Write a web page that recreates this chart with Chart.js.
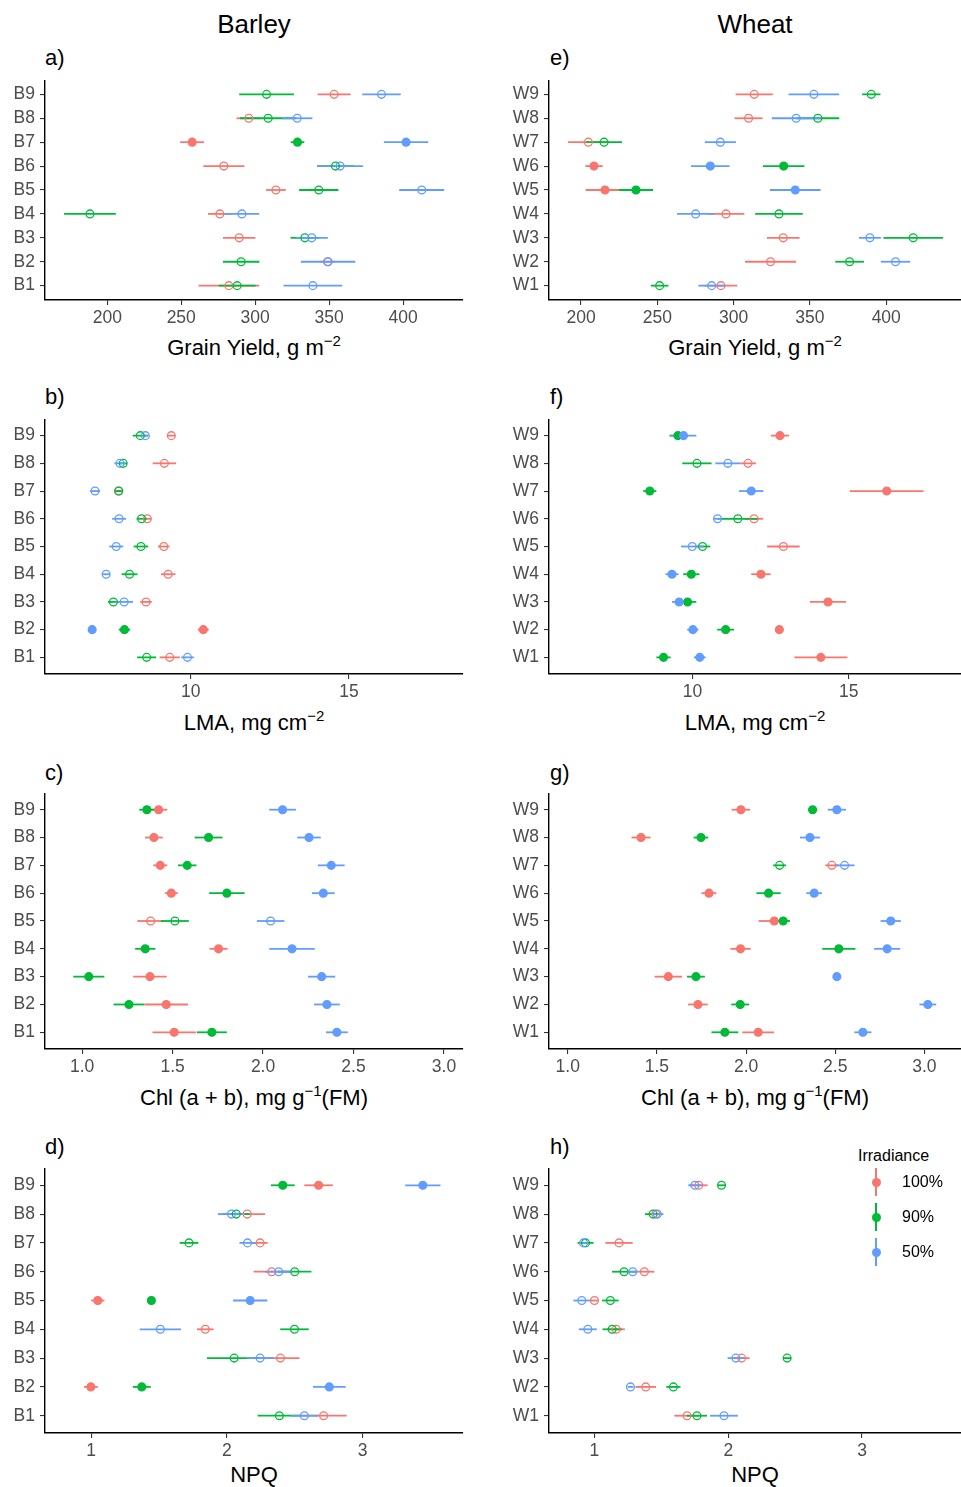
<!DOCTYPE html>
<html>
<head>
<meta charset="utf-8">
<script src="https://cdn.jsdelivr.net/npm/chart.js@4"></script>
<style>
  html, body { margin: 0; padding: 0; background: #fff; }
  #fig { position: relative; width: 961px; height: 1487px; overflow: hidden; font-family: 'Liberation Sans', Arial, sans-serif; }
  #fig canvas { position: absolute; }
  .col-title { position: absolute; width: 300px; margin-left: -150px; text-align: center; font-size: 26px; line-height: 30px; color: #000; }
  .panel-label { position: absolute; font-size: 22px; line-height: 26px; color: #000; }
  .axis-title { position: absolute; width: 420px; margin-left: -210px; text-align: center; font-size: 22px; line-height: 26px; color: #000; white-space: nowrap; }
  .axis-title sup { font-size: 15px; vertical-align: 0.6em; line-height: 0; }
  .legend-title { position: absolute; font-size: 16px; line-height: 20px; color: #000; }
  .legend-item { position: absolute; font-size: 16px; line-height: 20px; color: #000; }
  .legend-key { position: absolute; width: 16px; height: 28px; }
  .legend-key .bar { position: absolute; left: 7.1px; top: 0; width: 1.8px; height: 28px; }
  .legend-key .dot { position: absolute; left: 3.5px; top: 9.5px; width: 9px; height: 9px; border-radius: 50%; }
</style>
</head>
<body>
<div id="fig"></div>
<script>
// genotypes, bottom to top
const barleyLines = ['B1', 'B2', 'B3', 'B4', 'B5', 'B6', 'B7', 'B8', 'B9'];
const wheatLines = ['W1', 'W2', 'W3', 'W4', 'W5', 'W6', 'W7', 'W8', 'W9'];
const irradiance = ['100%', '90%', '50%'];
const colors = ['#F8766D', '#00BA38', '#619CFF'];

// tick labels
const yieldTicks = [200, 250, 300, 350, 400];
const lmaTicks = [10, 15];
const chlTicks = [1.0, 1.5, 2.0, 2.5, 3.0];
const npqTicks = [1, 2, 3];

// a) barley grain yield, g m-2 (mean and half error bar)
const yieldB100 = [282.2, 348.9, 289.2, 276.1, 314.0, 278.8, 257.4, 295.7, 353.4];
const yieldB100Se = [20.5, 5.0, 11.0, 8.0, 6.7, 13.9, 8.1, 8.3, 11.2];
const yieldB90 = [287.8, 290.5, 333.6, 188.3, 343.0, 354.3, 328.6, 308.8, 307.7];
const yieldB90Se = [12.5, 12.3, 9.7, 17.5, 13.3, 12.5, 4.6, 19.0, 18.5];
const yieldB50 = [339.0, 349.3, 338.3, 291.0, 412.6, 357.4, 402.0, 328.4, 385.4];
const yieldB50Se = [19.8, 18.4, 10.8, 11.7, 15.2, 15.6, 15.0, 10.3, 13.0];
const yieldBFilled = [0, 0, 0, 0, 0, 0, 1, 0, 0];

// e) wheat grain yield
const yieldW100 = [291.7, 324.2, 332.5, 295.0, 215.7, 208.5, 204.8, 309.8, 313.5];
const yieldW100Se = [10.7, 16.7, 10.7, 12.0, 12.7, 5.7, 13.3, 9.2, 12.2];
const yieldW90 = [251.5, 376.0, 417.7, 329.7, 236.0, 332.8, 215.1, 355.2, 390.2];
const yieldW90Se = [5.8, 9.4, 19.5, 15.6, 11.2, 13.6, 11.8, 14.0, 6.0];
const yieldW50 = [285.6, 406.1, 389.3, 275.1, 340.4, 284.7, 291.3, 341.0, 352.6];
const yieldW50Se = [8.7, 9.6, 7.2, 12.2, 16.6, 12.6, 10.2, 16.0, 16.6];
const yieldWFilled = [0, 0, 0, 0, 1, 1, 0, 0, 0];

// b) barley LMA, mg cm-2
const lmaB100 = [9.34, 10.40, 8.59, 9.29, 9.15, 8.63, 7.72, 9.17, 9.39];
const lmaB100Se = [0.32, 0.17, 0.18, 0.23, 0.18, 0.14, 0.10, 0.37, 0.12];
const lmaB90 = [8.61, 7.91, 7.56, 8.07, 8.43, 8.45, 7.73, 7.87, 8.41];
const lmaB90Se = [0.30, 0.18, 0.17, 0.25, 0.23, 0.16, 0.10, 0.12, 0.24];
const lmaB50 = [9.90, 6.89, 7.90, 7.33, 7.65, 7.74, 6.98, 7.77, 8.57];
const lmaB50Se = [0.20, 0.05, 0.28, 0.12, 0.22, 0.22, 0.16, 0.18, 0.10];
const lmaBFilled = [0, 1, 0, 0, 0, 0, 0, 0, 0];

// f) wheat LMA
const lmaW100 = [14.11, 12.78, 14.34, 12.19, 12.91, 11.97, 16.22, 11.78, 12.80];
const lmaW100Se = [0.85, 0.10, 0.58, 0.31, 0.52, 0.29, 1.18, 0.25, 0.29];
const lmaW90 = [9.07, 11.06, 9.84, 9.96, 10.32, 11.45, 8.63, 10.14, 9.53];
const lmaW90Se = [0.23, 0.27, 0.28, 0.26, 0.25, 0.65, 0.21, 0.47, 0.27];
const lmaW50 = [10.23, 10.01, 9.57, 9.34, 9.99, 10.80, 11.88, 11.13, 9.71];
const lmaW50Se = [0.19, 0.18, 0.23, 0.21, 0.36, 0.12, 0.39, 0.40, 0.41];
const lmaWFilled = [1, 1, 1, 1, 0, 0, 1, 0, 1];

// c) barley Chl (a + b), mg g-1 FM
const chlB100 = [1.509, 1.465, 1.375, 1.754, 1.379, 1.493, 1.432, 1.397, 1.423];
const chlB100Se = [0.120, 0.120, 0.093, 0.050, 0.074, 0.036, 0.039, 0.049, 0.048];
const chlB90 = [1.717, 1.259, 1.037, 1.349, 1.513, 1.800, 1.581, 1.699, 1.358];
const chlB90Se = [0.083, 0.085, 0.086, 0.056, 0.077, 0.098, 0.051, 0.077, 0.042];
const chlB50 = [2.408, 2.353, 2.324, 2.160, 2.042, 2.333, 2.377, 2.254, 2.108];
const chlB50Se = [0.060, 0.071, 0.075, 0.126, 0.076, 0.063, 0.074, 0.065, 0.074];
const chlBFilled = [1, 1, 1, 1, 0, 1, 1, 1, 1];

// g) wheat Chl (a + b)
const chlW100 = [2.068, 1.730, 1.564, 1.969, 2.158, 1.792, 2.481, 1.411, 1.971];
const chlW100Se = [0.089, 0.055, 0.077, 0.057, 0.088, 0.042, 0.037, 0.053, 0.052];
const chlW90 = [1.881, 1.967, 1.719, 2.520, 2.208, 2.126, 2.188, 1.747, 2.373];
const chlW90Se = [0.075, 0.050, 0.050, 0.093, 0.037, 0.068, 0.036, 0.041, 0.026];
const chlW50 = [2.655, 3.019, 2.509, 2.791, 2.811, 2.382, 2.552, 2.358, 2.509];
const chlW50Se = [0.048, 0.047, 0.010, 0.073, 0.057, 0.044, 0.056, 0.056, 0.051];
const chlWFilled = [1, 1, 1, 1, 1, 1, 0, 1, 1];

// d) barley NPQ
const npqB100 = [2.713, 0.998, 2.395, 1.841, 1.049, 2.331, 2.245, 2.150, 2.676];
const npqB100Se = [0.170, 0.051, 0.140, 0.061, 0.049, 0.134, 0.056, 0.132, 0.105];
const npqB90 = [2.387, 1.373, 2.054, 2.498, 1.444, 2.500, 1.721, 2.069, 2.412];
const npqB90Se = [0.160, 0.066, 0.200, 0.105, 0.010, 0.123, 0.069, 0.100, 0.088];
const npqB50 = [2.571, 2.755, 2.245, 1.510, 2.172, 2.382, 2.152, 2.034, 3.444];
const npqB50Se = [0.100, 0.120, 0.100, 0.152, 0.126, 0.100, 0.059, 0.100, 0.130];
const npqBFilled = [0, 1, 0, 0, 1, 0, 0, 0, 1];

// h) wheat NPQ
const npqW100 = [1.692, 1.383, 2.100, 1.162, 1.000, 1.373, 1.184, 1.458, 1.779];
const npqW100Se = [0.095, 0.077, 0.060, 0.065, 0.030, 0.075, 0.102, 0.040, 0.067];
const npqW90 = [1.766, 1.590, 2.440, 1.132, 1.119, 1.221, 0.933, 1.438, 1.950];
const npqW90Se = [0.075, 0.053, 0.030, 0.072, 0.062, 0.090, 0.060, 0.060, 0.030];
const npqW50 = [1.968, 1.269, 2.057, 0.950, 0.905, 1.286, 0.918, 1.470, 1.751];
const npqW50Se = [0.104, 0.020, 0.062, 0.067, 0.062, 0.030, 0.030, 0.045, 0.050];
const npqWFilled = [0, 0, 0, 0, 0, 0, 0, 0, 0];

// layout
const X_AXIS_H = 34;
const columns = [
  { left: 0, width: 470, yAxisW: 45, padRight: 7, labelX: 45, centerX: 254, title: 'Barley' },
  { left: 490, width: 471, yAxisW: 59, padRight: 0, labelX: 550, centerX: 755, title: 'Wheat' }
];
const rows = [
  { top: 80, height: 220, labelY: 58, titleY: 348 },
  { top: 419, height: 255, labelY: 397, titleY: 723 },
  { top: 793, height: 256, labelY: 773, titleY: 1098 },
  { top: 1168, height: 265, labelY: 1147, titleY: 1475 }
];

const yieldTitle = 'Grain Yield, g m<sup>\u22122</sup>';
const lmaTitle = 'LMA, mg cm<sup>\u22122</sup>';
const chlTitle = 'Chl (a + b), mg g<sup>\u22121</sup>(FM)';

const panels = [
  { label: 'a)', col: 0, row: 0, title: yieldTitle, lines: barleyLines, xMin: 157.9, xMax: 440.5, xTicks: yieldTicks, dec: 0,
    means: [yieldB100, yieldB90, yieldB50], errs: [yieldB100Se, yieldB90Se, yieldB50Se], filled: yieldBFilled },
  { label: 'b)', col: 0, row: 1, title: lmaTitle, lines: barleyLines, xMin: 5.4, xMax: 18.6, xTicks: lmaTicks, dec: 0,
    means: [lmaB100, lmaB90, lmaB50], errs: [lmaB100Se, lmaB90Se, lmaB50Se], filled: lmaBFilled },
  { label: 'c)', col: 0, row: 2, title: chlTitle, lines: barleyLines, xMin: 0.795, xMax: 3.105, xTicks: chlTicks, dec: 1,
    means: [chlB100, chlB90, chlB50], errs: [chlB100Se, chlB90Se, chlB50Se], filled: chlBFilled },
  { label: 'd)', col: 0, row: 3, title: 'NPQ', lines: barleyLines, xMin: 0.66, xMax: 3.74, xTicks: npqTicks, dec: 0,
    means: [npqB100, npqB90, npqB50], errs: [npqB100Se, npqB90Se, npqB50Se], filled: npqBFilled },
  { label: 'e)', col: 1, row: 0, title: yieldTitle, lines: wheatLines, xMin: 179.0, xMax: 449.0, xTicks: yieldTicks, dec: 0,
    means: [yieldW100, yieldW90, yieldW50], errs: [yieldW100Se, yieldW90Se, yieldW50Se], filled: yieldWFilled },
  { label: 'f)', col: 1, row: 1, title: lmaTitle, lines: wheatLines, xMin: 5.4, xMax: 18.6, xTicks: lmaTicks, dec: 0,
    means: [lmaW100, lmaW90, lmaW50], errs: [lmaW100Se, lmaW90Se, lmaW50Se], filled: lmaWFilled },
  { label: 'g)', col: 1, row: 2, title: chlTitle, lines: wheatLines, xMin: 0.895, xMax: 3.205, xTicks: chlTicks, dec: 1,
    means: [chlW100, chlW90, chlW50], errs: [chlW100Se, chlW90Se, chlW50Se], filled: chlWFilled },
  { label: 'h)', col: 1, row: 3, title: 'NPQ', lines: wheatLines, xMin: 0.66, xMax: 3.74, xTicks: npqTicks, dec: 0,
    means: [npqW100, npqW90, npqW50], errs: [npqW100Se, npqW90Se, npqW50Se], filled: npqWFilled }
];

Chart.defaults.font.family = "'Liberation Sans', Arial, sans-serif";

// horizontal error bars, drawn under the points like geom_pointrange
const errorBars = {
  id: 'errorBars',
  beforeDatasetsDraw(chart) {
    const { ctx, scales: { x, y } } = chart;
    ctx.save();
    ctx.lineWidth = 1.8;
    chart.data.datasets.forEach(ds => {
      ctx.strokeStyle = ds.borderColor;
      ds.data.forEach(p => {
        const py = y.getPixelForValue(p.y);
        ctx.beginPath();
        ctx.moveTo(x.getPixelForValue(p.x - p.se), py);
        ctx.lineTo(x.getPixelForValue(p.x + p.se), py);
        ctx.stroke();
      });
    });
    ctx.restore();
  }
};

const fig = document.getElementById('fig');

function addDiv(cls, html, left, top) {
  const d = document.createElement('div');
  d.className = cls;
  d.innerHTML = html;
  d.style.left = left + 'px';
  d.style.top = top + 'px';
  fig.appendChild(d);
  return d;
}

columns.forEach(c => addDiv('col-title', c.title, c.centerX, 9));

const axisStyle = {
  grid: { drawOnChartArea: false, drawTicks: true, tickLength: 5, color: '#333333', lineWidth: 1.1 },
  border: { display: true, color: '#000000', width: 1.4 }
};

// keep the plot area exactly where the panel sits (no label padding)
function noPad(s) {
  s.paddingTop = 0;
  s.paddingBottom = 0;
  s.paddingLeft = 0;
  s.paddingRight = 0;
}

panels.forEach(p => {
  const col = columns[p.col];
  const row = rows[p.row];

  addDiv('panel-label', p.label, col.labelX, row.labelY - 13);
  addDiv('axis-title', p.title, col.centerX, row.titleY - 13);

  const cv = document.createElement('canvas');
  cv.width = col.width;
  cv.height = row.height + X_AXIS_H;
  cv.style.left = col.left + 'px';
  cv.style.top = row.top + 'px';
  fig.appendChild(cv);

  new Chart(cv, {
    type: 'scatter',
    data: {
      datasets: irradiance.map((lvl, k) => ({
        label: lvl,
        data: p.lines.map((_, j) => ({ x: p.means[k][j], y: j + 1, se: p.errs[k][j] })),
        order: 3 - k,
        borderColor: colors[k],
        pointBorderColor: colors[k],
        pointBackgroundColor: p.filled.map(f => f ? colors[k] : 'rgba(0,0,0,0)'),
        pointRadius: 3.9,
        pointHoverRadius: 3.9,
        pointBorderWidth: 1.3
      }))
    },
    options: {
      responsive: false,
      animation: false,
      events: [],
      layout: { autoPadding: false, padding: { top: 0, right: col.padRight, bottom: 0, left: 0 } },
      plugins: { legend: { display: false }, tooltip: { enabled: false } },
      scales: {
        x: {
          type: 'linear',
          min: p.xMin,
          max: p.xMax,
          afterBuildTicks: s => { s.ticks = p.xTicks.map(v => ({ value: v })); },
          afterFit: s => { s.height = X_AXIS_H; noPad(s); },
          ticks: {
            color: '#4D4D4D', font: { size: 17.5 }, padding: 3,
            maxRotation: 0, autoSkip: false,
            callback: v => Number(v).toFixed(p.dec)
          },
          ...axisStyle
        },
        y: {
          type: 'linear',
          min: 0.4,
          max: 9.6,
          afterBuildTicks: s => { s.ticks = p.lines.map((_, j) => ({ value: j + 1 })); },
          afterFit: s => { s.width = col.yAxisW; noPad(s); },
          ticks: {
            color: '#4D4D4D', font: { size: 17.5 }, padding: 5, autoSkip: false,
            callback: v => p.lines[Math.round(v) - 1]
          },
          ...axisStyle
        }
      }
    },
    plugins: [errorBars]
  });
});

// legend inside panel h
addDiv('legend-title', 'Irradiance', 858, 1146);
irradiance.forEach((lvl, k) => {
  const cy = 1182 + k * 35;
  const key = addDiv('legend-key', '<div class="bar"></div><div class="dot"></div>', 868, cy - 14);
  key.querySelector('.bar').style.background = colors[k];
  key.querySelector('.dot').style.background = colors[k];
  addDiv('legend-item', lvl, 902, cy - 10);
});
</script>
</body>
</html>
